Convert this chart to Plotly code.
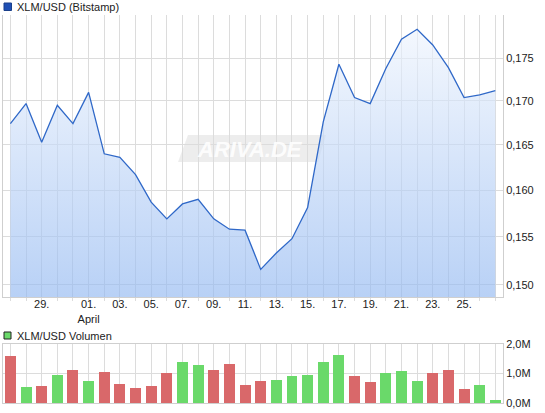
import plotly.graph_objects as go
import pandas as pd

# ---------------- data ----------------
dates = pd.date_range("2024-03-27", "2024-04-27", freq="D")
price = [0.1674, 0.1697, 0.1653, 0.1695, 0.1674, 0.1710, 0.1640, 0.1636,
         0.1617, 0.1587, 0.1569, 0.1585, 0.1590, 0.1569, 0.1558, 0.1557,
         0.1516, 0.1533, 0.1548, 0.1581, 0.1676, 0.1743, 0.1704, 0.1697,
         0.1738, 0.1773, 0.1785, 0.1766, 0.1739, 0.1704, 0.1707, 0.1712]
volume_m = [1.58, 0.53, 0.565, 0.94, 1.11, 0.73, 1.04, 0.63, 0.50, 0.565,
            1.01, 1.38, 1.30, 1.11, 1.31, 0.60, 0.76, 0.79, 0.90, 0.94,
            1.38, 1.62, 0.90, 0.70, 1.01, 1.07, 0.76, 1.01, 1.11, 0.46,
            0.60, 0.09]
volume_dir = ["d", "u", "d", "u", "d", "u", "d", "d", "d", "d",
              "d", "u", "u", "d", "d", "d", "d", "u", "u", "u",
              "u", "u", "d", "d", "u", "u", "u", "d", "d", "d",
              "u", "u"]
x_tick_labels = {"2024-03-29": "29.", "2024-04-01": "01.<br>April", "2024-04-03": "03.",
                 "2024-04-05": "05.", "2024-04-07": "07.", "2024-04-09": "09.",
                 "2024-04-11": "11.", "2024-04-13": "13.", "2024-04-15": "15.",
                 "2024-04-17": "17.", "2024-04-19": "19.", "2024-04-21": "21.",
                 "2024-04-23": "23.", "2024-04-25": "25."}
price_ticks = [0.150, 0.155, 0.160, 0.165, 0.170, 0.175]
price_tick_text = ["0,150", "0,155", "0,160", "0,165", "0,170", "0,175"]
vol_ticks = [0, 1, 2]
vol_tick_text = ["0,0M", "1,0M", "2,0M"]

# ---------------- layout helpers ----------------
W, H = 545, 413
ML, MR, MT, MB = 3, 42, 15, 10
PW, PH = W - ML - MR, H - MT - MB


def px(x):
    return (x - ML) / PW


def py(y):
    return (H - MB - y) / PH


y_lo, y_hi = -0.82746, -0.74415
base_val = 10 ** y_lo
x_range = ["2024-03-26 12:40", "2024-04-27 11:45"]

tickvals = list(dates)
ticktext = [x_tick_labels.get(d.strftime("%Y-%m-%d"), "") for d in dates]

up_c, down_c = "#6ad96a", "#d9686a"
bar_colors = [up_c if v == "u" else down_c for v in volume_dir]

fig = go.Figure()
fig.add_trace(go.Scatter(x=dates, y=[base_val] * len(dates), mode="lines",
                         line=dict(width=0), hoverinfo="skip", showlegend=False,
                         xaxis="x", yaxis="y"))
fig.add_trace(go.Scatter(x=dates, y=price, mode="lines",
                         line=dict(color="#2f68c8", width=1.3),
                         fill="tonexty",
                         fillgradient=dict(type="vertical",
                                           colorscale=[[0, "rgba(146,184,241,0.65)"],
                                                       [1, "rgba(238,244,253,0.65)"]]),
                         showlegend=False, xaxis="x", yaxis="y"))
fig.add_trace(go.Bar(x=dates, y=volume_m, marker=dict(color=bar_colors, line=dict(width=0)),
                     width=0.7 * 86400000, showlegend=False, xaxis="x2", yaxis="y2"))

grid = "#dcdcdc"
axline = "#cfcfcf"
font = dict(family="Liberation Sans, Arial, sans-serif", size=11, color="#222")

fig.update_layout(
    width=W, height=H, margin=dict(l=ML, r=MR, t=MT, b=MB, autoexpand=False),
    paper_bgcolor="white", plot_bgcolor="white", font=font,
    xaxis=dict(domain=[0, 1], range=x_range, tickvals=tickvals, ticktext=ticktext,
               showgrid=True, gridcolor=grid, gridwidth=1, tickangle=0,
               ticks="outside", ticklen=3, tickcolor=grid, automargin=False,
               ticklabelstandoff=-6,
               showline=True, linecolor=axline, zeroline=False, anchor="y"),
    yaxis=dict(domain=[py(297), 1], type="log", range=[y_lo, y_hi], side="right",
               tickvals=price_ticks, ticktext=price_tick_text, automargin=False,
               showgrid=True, gridcolor=grid, ticks="", showline=True, mirror=True,
               linecolor=axline, zeroline=False, anchor="x"),
    xaxis2=dict(domain=[0, 1], range=x_range, tickvals=tickvals, showticklabels=False,
                showgrid=True, gridcolor=grid, ticks="", showline=True, mirror=True,
                linecolor=axline, zeroline=False, anchor="y2", automargin=False),
    yaxis2=dict(domain=[0, py(344)], range=[0, 2.0], side="right",
                tickvals=vol_ticks, ticktext=vol_tick_text, automargin=False,
                showgrid=True, gridcolor=grid, ticks="", showline=True, mirror=True,
                linecolor=axline, zeroline=False, anchor="x2"),
    bargap=0,
)

# legend-like labels
shapes = [
    dict(type="rect", xref="paper", yref="paper", x0=px(4), x1=px(11.5), y0=py(10.5), y1=py(3),
         fillcolor="#1f4fb4", line=dict(color="#1a3f8a", width=1)),
    dict(type="rect", xref="paper", yref="paper", x0=px(4), x1=px(11), y0=py(339), y1=py(332),
         fillcolor="#6ad96a", line=dict(color="#222", width=1)),
    # watermark plate
    dict(type="path", xref="paper", yref="paper", layer="below",
         path=("M {a},{b} L {c},{b} L {d},{e} L {f},{e} Z").format(
             a=px(188), b=py(135), c=px(326), d=px(318), e=py(162), f=px(178)),
         fillcolor="rgba(215,215,215,0.45)", line=dict(width=0)),
]
annotations = [
    dict(text="XLM/USD (Bitstamp)", xref="paper", yref="paper", x=px(15), y=py(7),
         xanchor="left", yanchor="middle", showarrow=False, font=font),
    dict(text="XLM/USD Volumen", xref="paper", yref="paper", x=px(15), y=py(335.5),
         xanchor="left", yanchor="middle", showarrow=False, font=font),
    dict(text="<b><i>ARIVA.DE</i></b>", xref="paper", yref="paper", x=px(250), y=py(149),
         xanchor="center", yanchor="middle", showarrow=False,
         font=dict(family="Liberation Sans, Arial, sans-serif", size=22,
                   color="rgba(255,255,255,0.9)")),
]
fig.update_layout(shapes=shapes, annotations=annotations)

fig.write_html("out.html", config={"displayModeBar": False},
               post_script="document.body.style.margin='0';document.body.style.padding='0';")
